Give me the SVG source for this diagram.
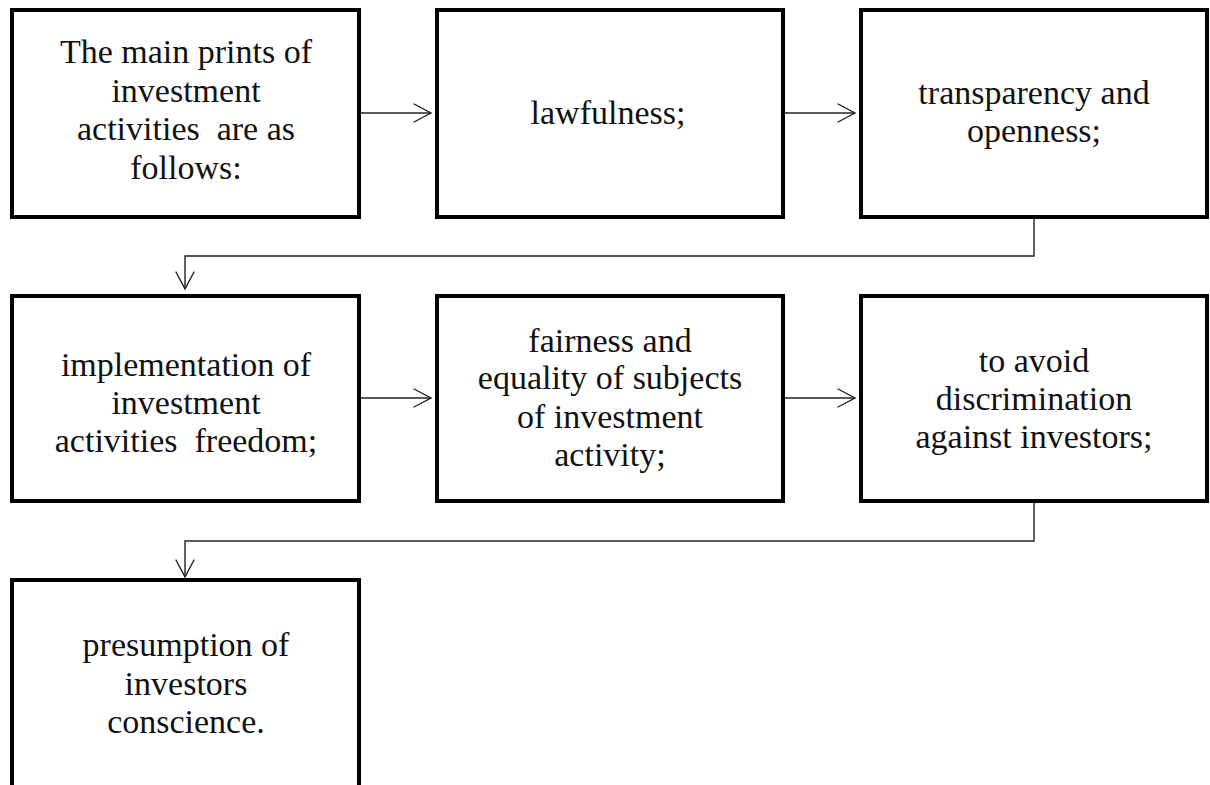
<svg xmlns="http://www.w3.org/2000/svg" width="1210" height="785" viewBox="0 0 1210 785">
<style>
.box{fill:#fff;stroke:#000;stroke-width:4}
.t{font-family:'Liberation Serif','Times New Roman',Times,serif;font-size:34px;fill:#111;text-anchor:middle}
.c{fill:none;stroke:#222;stroke-width:1.4}
.h{fill:none;stroke:#222;stroke-width:1.4;stroke-linecap:round;stroke-linejoin:miter}
</style>
<rect width="1210" height="785" fill="#fff"/>
<g id="connectors">
  <path class="c" d="M359 113H430"/><path class="h" d="M414 104L431 113L414 122"/>
  <path class="c" d="M783 113H854"/><path class="h" d="M838 104L855 113L838 122"/>
  <path class="c" d="M1034 217V256H185V288"/><path class="h" d="M176 272L185 289L194 272"/>
  <path class="c" d="M359 398H430"/><path class="h" d="M414 389L431 398L414 407"/>
  <path class="c" d="M783 398H854"/><path class="h" d="M838 389L855 398L838 407"/>
  <path class="c" d="M1034 501V541H185V576"/><path class="h" d="M176 560L185 577L194 560"/>
</g>
<g id="n1"><rect class="box" x="12" y="10" width="347" height="207"/>
<text class="t" x="186" y="63">The main prints of</text>
<text class="t" x="186" y="101.5">investment</text>
<text class="t" x="186" y="140" xml:space="preserve">activities  are as</text>
<text class="t" x="186" y="178.5">follows:</text></g>
<g id="n2"><rect class="box" x="437" y="10" width="346" height="207"/>
<text class="t" x="608" y="124">lawfulness;</text></g>
<g id="n3"><rect class="box" x="861" y="10" width="346" height="207"/>
<text class="t" x="1034" y="104">transparency and</text>
<text class="t" x="1034" y="142">openness;</text></g>
<g id="n4"><rect class="box" x="12" y="296" width="347" height="205"/>
<text class="t" x="186" y="376">implementation of</text>
<text class="t" x="186" y="414">investment</text>
<text class="t" x="186" y="452" xml:space="preserve">activities  freedom;</text></g>
<g id="n5"><rect class="box" x="437" y="296" width="346" height="205"/>
<text class="t" x="610" y="352">fairness and</text>
<text class="t" x="610" y="389">equality of subjects</text>
<text class="t" x="610" y="427.5">of investment</text>
<text class="t" x="610" y="466">activity;</text></g>
<g id="n6"><rect class="box" x="861" y="296" width="346" height="205"/>
<text class="t" x="1034" y="372">to avoid</text>
<text class="t" x="1034" y="410">discrimination</text>
<text class="t" x="1034" y="448">against investors;</text></g>
<g id="n7"><rect class="box" x="12" y="580" width="347" height="230"/>
<text class="t" x="186" y="656">presumption of</text>
<text class="t" x="186" y="694.5">investors</text>
<text class="t" x="186" y="733">conscience.</text></g>
</svg>
